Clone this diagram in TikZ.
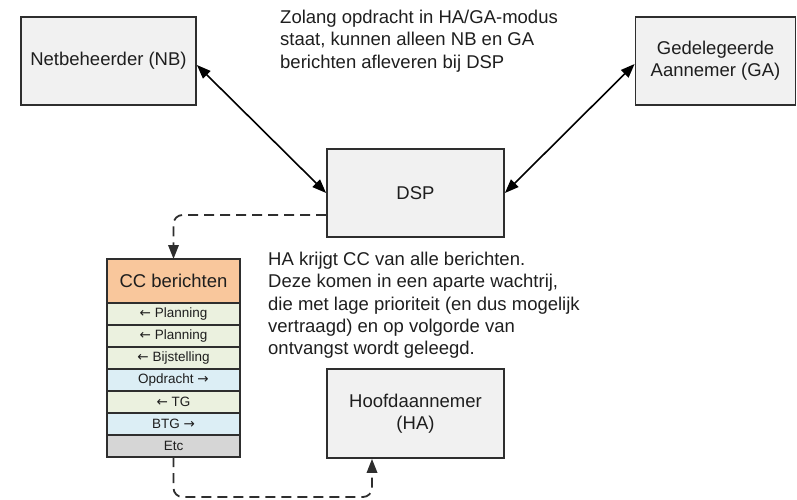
\documentclass[tikz,border=0pt]{standalone}
\usepackage{fontspec}
\setmainfont{Liberation Sans}
\newfontfamily\arrowfont{DejaVu Sans}
\usetikzlibrary{positioning,arrows.meta}
\definecolor{boxgray}{HTML}{F1F1F1}
\definecolor{linegray}{HTML}{2E2E2E}
\definecolor{textgray}{HTML}{1E1E1E}
\definecolor{ccorange}{HTML}{F9C79C}
\definecolor{ccgreen}{HTML}{EBF1DF}
\definecolor{ccblue}{HTML}{DCEEF5}
\definecolor{ccetc}{HTML}{D6D6D6}
\newcommand{\toleft}{{\arrowfont ←}}
\newcommand{\toright}{{\arrowfont →}}

\begin{document}
\begin{tikzpicture}[x=1pt,y=-1pt,
    party/.style={draw=linegray,line width=1.8pt,fill=boxgray,minimum width=177pt,
      minimum height=88pt,align=center,text=textgray,
      font=\fontsize{18.5}{22.3}\selectfont},
    note/.style={anchor=north west,inner sep=0pt,align=left,text=textgray,
      font=\fontsize{18.5}{22.3}\selectfont},
    ccrow/.style={draw=linegray,line width=1.8pt,outer sep=0pt,inner sep=0pt,
      minimum width=133pt,minimum height=22pt,text=textgray,
      font=\fontsize{13.5}{15}\selectfont},
    tip/.tip={Triangle[length=14pt,width=10.5pt]},
    both/.style={tip-tip,line width=1.6pt},
    cclink/.style={-tip,line width=1.8pt,draw=linegray,dash pattern=on 10pt off 6pt,
      rounded corners=9pt}]
  \useasboundingbox (0,0) rectangle (797,500);

  % parties
  \node[party,minimum width=175pt] (nb) at (108.5,61) {Netbeheerder (NB)};
  \node[party,minimum width=160pt] (ga) at (715.5,61) {Gedelegeerde\\Aannemer (GA)};
  \node[party] (dsp) at (415.5,193) {DSP};
  \node[party,minimum height=89pt] (ha) at (415.5,413.5) {Hoofdaannemer\\(HA)};

  % queue of copies
  \node[ccrow,fill=ccorange,minimum height=44pt,font=\fontsize{18.5}{22}\selectfont]
    (cc) at (173.5,281) {CC berichten};
  \node[ccrow,fill=ccgreen,below=0pt of cc] (plan1) {\toleft{} Planning};
  \node[ccrow,fill=ccgreen,below=0pt of plan1] (plan2) {\toleft{} Planning};
  \node[ccrow,fill=ccgreen,below=0pt of plan2] (bijst) {\toleft{} Bijstelling};
  \node[ccrow,fill=ccblue,below=0pt of bijst] (opdr) {Opdracht \toright};
  \node[ccrow,fill=ccgreen,below=0pt of opdr] (tg) {\toleft{} TG};
  \node[ccrow,fill=ccblue,below=0pt of tg] (btg) {BTG \toright};
  \node[ccrow,fill=ccetc,below=0pt of btg] (etc) {Etc};

  % notes
  \node[note] (topnote) at (280,10)
    {Zolang opdracht in HA/GA-modus\\staat, kunnen alleen NB en GA\\berichten afleveren bij DSP};
  \node[note] (ccnote) at (268,252)
    {HA krijgt CC van alle berichten.\\Deze komen in een aparte wachtrij,\\die met lage prioriteit (en dus mogelijk\\vertraagd) en op volgorde van\\ontvangst wordt geleegd.};

  % connectors
  \draw[both] ([yshift=-4pt]nb.east) -- (dsp.west);
  \draw[both] ([yshift=-3pt]ga.west) -- (dsp.east);
  \coordinate (dspout) at ([yshift=-22pt]dsp.west);
  \draw[cclink] (dspout) -| (cc.north);
  \coordinate (haturn) at ([yshift=-40pt]etc.south);
  \coordinate (hain) at ([xshift=-43.5pt]ha.south);
  \draw[cclink] (etc.south) -- (haturn) -| (hain);
\end{tikzpicture}
\end{document}
